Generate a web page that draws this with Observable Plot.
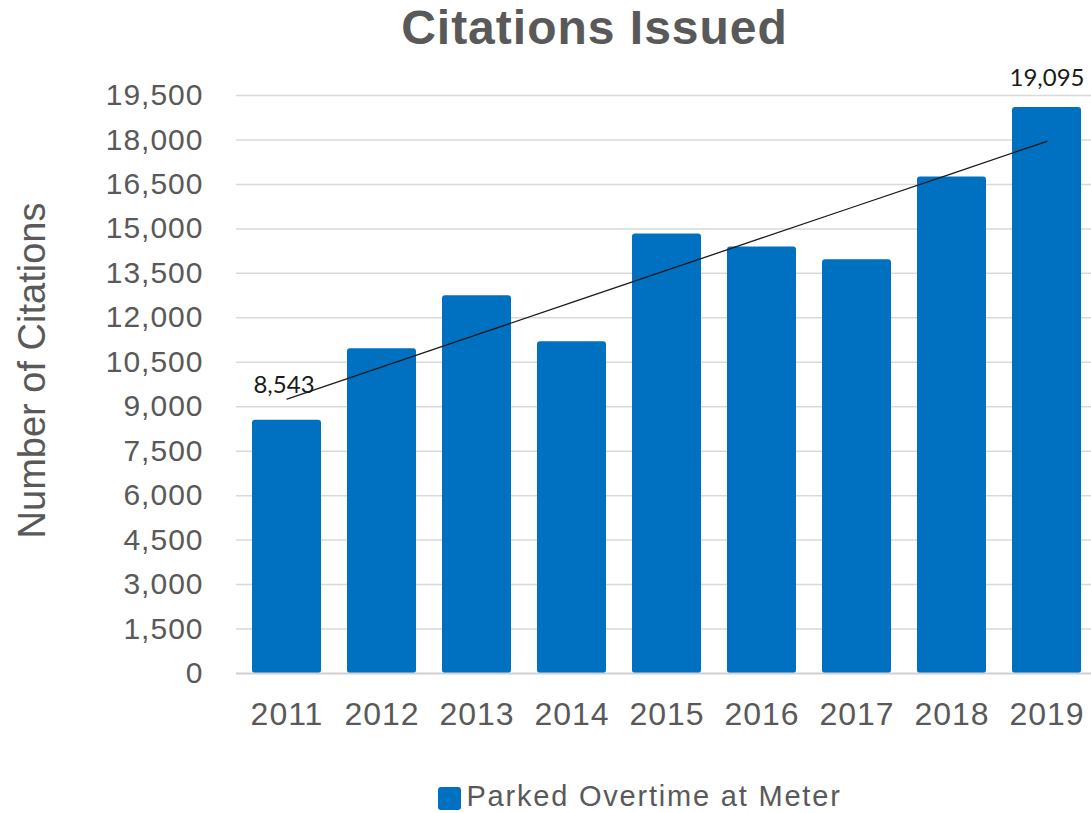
<!DOCTYPE html>
<html>
<head>
<meta charset="utf-8">
<script src="https://cdn.jsdelivr.net/npm/d3@7"></script>
<script src="https://cdn.jsdelivr.net/npm/@observablehq/plot@0.6"></script>
<style>
  html, body { margin: 0; padding: 0; background: #fff; overflow: hidden; width: 1091px; height: 813px; }
  body { font-family: "Liberation Sans", Arial, sans-serif; color: #595959; }
  #title { box-sizing: border-box; width: 1091px; height: 54px; padding-top: 2px; padding-left: 98px; line-height: 52px; text-align: center; font-size: 48px; font-weight: bold; letter-spacing: 1px; color: #595959; white-space: nowrap; }
  #chart { width: 1098px; height: 700px; overflow: visible; }
  #chart svg { max-width: none !important; }
  #legend { box-sizing: border-box; width: 1091px; height: 59px; padding-top: 26px; padding-left: 189px; display: flex; justify-content: center; align-items: center; font-size: 29px; letter-spacing: 1.8px; color: #595959; line-height: 33px; white-space: nowrap; }
  #legend .sw { width: 23px; height: 23px; background: #0070C0; border-radius: 3px; margin-right: 5px; margin-top: 4px; }
  g[aria-label="y-axis tick label"] text { letter-spacing: 1px; }
  g[aria-label="x-axis tick label"] text { letter-spacing: 1px; }
</style>
</head>
<body>
<div id="title">Citations Issued</div>
<div id="chart"></div>
<div id="legend"><span class="sw"></span><span>Parked Overtime at Meter</span></div>
<script>
const years = ["2011", "2012", "2013", "2014", "2015", "2016", "2017", "2018", "2019"];
const citations = [8543, 10955, 12742, 11191, 14831, 14393, 13955, 16753, 19095];
const yTicks = [0, 1500, 3000, 4500, 6000, 7500, 9000, 10500, 12000, 13500, 15000, 16500, 18000, 19500];
const seriesName = "Parked Overtime at Meter";
const yTitle = "Number of Citations";

const data = years.map((year, i) => ({year, value: citations[i], i}));

// linear trend line (least squares over year index)
const n = data.length;
const mx = d3.mean(data, d => d.i);
const my = d3.mean(data, d => d.value);
const slope = d3.sum(data, d => (d.i - mx) * (d.value - my)) / d3.sum(data, d => (d.i - mx) ** 2);
const trend = data.map(d => ({year: d.year, value: my + slope * (d.i - mx)}));

const first = [data[0]];
const last = [data[n - 1]];

const chart = Plot.plot({
  width: 1098,
  height: 700,
  marginLeft: 236,
  marginRight: 0,
  marginTop: 41,
  marginBottom: 81,
  style: {fontFamily: "'Liberation Sans', Arial, sans-serif", background: "#fff", maxWidth: "none"},
  x: {domain: years, paddingInner: 0.27, paddingOuter: 0.135},
  y: {domain: [0, 19500]},
  marks: [
    Plot.ruleY(yTicks.filter(t => t > 0), {stroke: "#d9d9d9", strokeWidth: 1.5}),
    Plot.barY(data, {x: "year", y: "value", fill: "#0070C0", rx: 3}),
    Plot.ruleY([0], {stroke: "#d0d0d0", strokeWidth: 2}),
    Plot.line(trend, {x: "year", y: "value", stroke: "#1a1a1a", strokeWidth: 1.3}),
    Plot.text(first, {x: "year", y: "value", text: d => d3.format(",")(d.value), dx: -3, dy: -27, lineAnchor: "bottom", fontSize: 24, fontFamily: "Lato, 'Open Sans', sans-serif", fill: "#1a1a1a"}),
    Plot.text(last, {x: "year", y: "value", text: d => d3.format(",")(d.value), dy: -22, lineAnchor: "bottom", fontSize: 24, fontFamily: "Lato, 'Open Sans', sans-serif", fill: "#1a1a1a"}),
    Plot.axisY({ticks: yTicks, tickFormat: d3.format(","), tickSize: 0, tickPadding: 33, fontSize: 30, fill: "#595959", label: null}),
    Plot.axisX({tickSize: 0, tickPadding: 29, fontSize: 32, fill: "#595959", label: null}),
    Plot.text([yTitle], {text: d => d, frameAnchor: "left", rotate: -90, dx: -204, dy: -14, textAnchor: "middle", lineAnchor: "middle", fontSize: 38, fill: "#595959", style: "letter-spacing: 0.7px"})
  ]
});
chart.style.maxWidth = "none";
document.getElementById("chart").appendChild(chart);
</script>
</body>
</html>
